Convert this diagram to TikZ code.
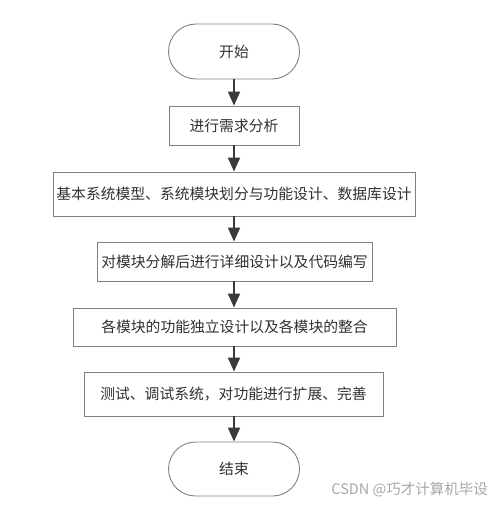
\documentclass[tikz,border=0pt]{standalone}
\usepackage{fontspec}
\newfontfamily\cjk{Noto Sans CJK SC}
\usetikzlibrary{shapes.misc,arrows.meta}
\definecolor{edge}{HTML}{808080}
\definecolor{arr}{HTML}{3A3A3A}
\definecolor{txt}{HTML}{303030}
\tikzset{
  stepbox/.style={draw=edge,line width=0.9pt,rectangle,inner sep=0pt,font=\cjk\fontsize{14.8}{17}\selectfont,text=txt},
  term/.style={draw=edge,line width=0.9pt,rounded rectangle,inner sep=0pt,minimum width=131pt,minimum height=55pt,font=\cjk\fontsize{14.8}{17}\selectfont,text=txt},
  flow/.style={draw=arr,line width=2pt,-{Triangle[length=14pt,width=12pt]}}
}
\begin{document}
\begin{tikzpicture}[x=1pt,y=-1pt]
\useasboundingbox (0,0) rectangle (500,505);
\node[term] (s) at (234,51.5) {开始};
\node[stepbox,minimum width=130pt,minimum height=39pt] (b1) at (234,125.5) {进行需求分析};
\node[stepbox,minimum width=362pt,minimum height=44pt] (b2) at (234,194) {基本系统模型、系统模块划分与功能设计、数据库设计};
\node[stepbox,minimum width=275pt,minimum height=39pt] (b3) at (234.5,261.5) {对模块分解后进行详细设计以及代码编写};
\node[stepbox,minimum width=323pt,minimum height=38pt] (b4) at (234.5,327) {各模块的功能独立设计以及各模块的整合};
\node[stepbox,minimum width=299pt,minimum height=44pt] (b5) at (233.5,394) {测试、调试系统，对功能进行扩展、完善};
\node[term,minimum height=54pt] (e) at (234,469) {结束};
\draw[flow] (s.south) -- (b1.north);
\draw[flow] (b1.south) -- (b2.north -| b1.south);
\draw[flow] (b2.south) -- (b3.north -| b2.south);
\draw[flow] (b3.south -| b2.south) -- (b4.north -| b2.south);
\draw[flow] (b4.south -| b2.south) -- (b5.north -| b2.south);
\draw[flow] (b5.south -| b2.south) -- (e.north);
\node[font=\cjk\fontsize{14.5}{16}\selectfont,text=black!35,anchor=east,inner sep=0pt] (wm) at (488,490) {CSDN @巧才计算机毕设};
\end{tikzpicture}
\end{document}
